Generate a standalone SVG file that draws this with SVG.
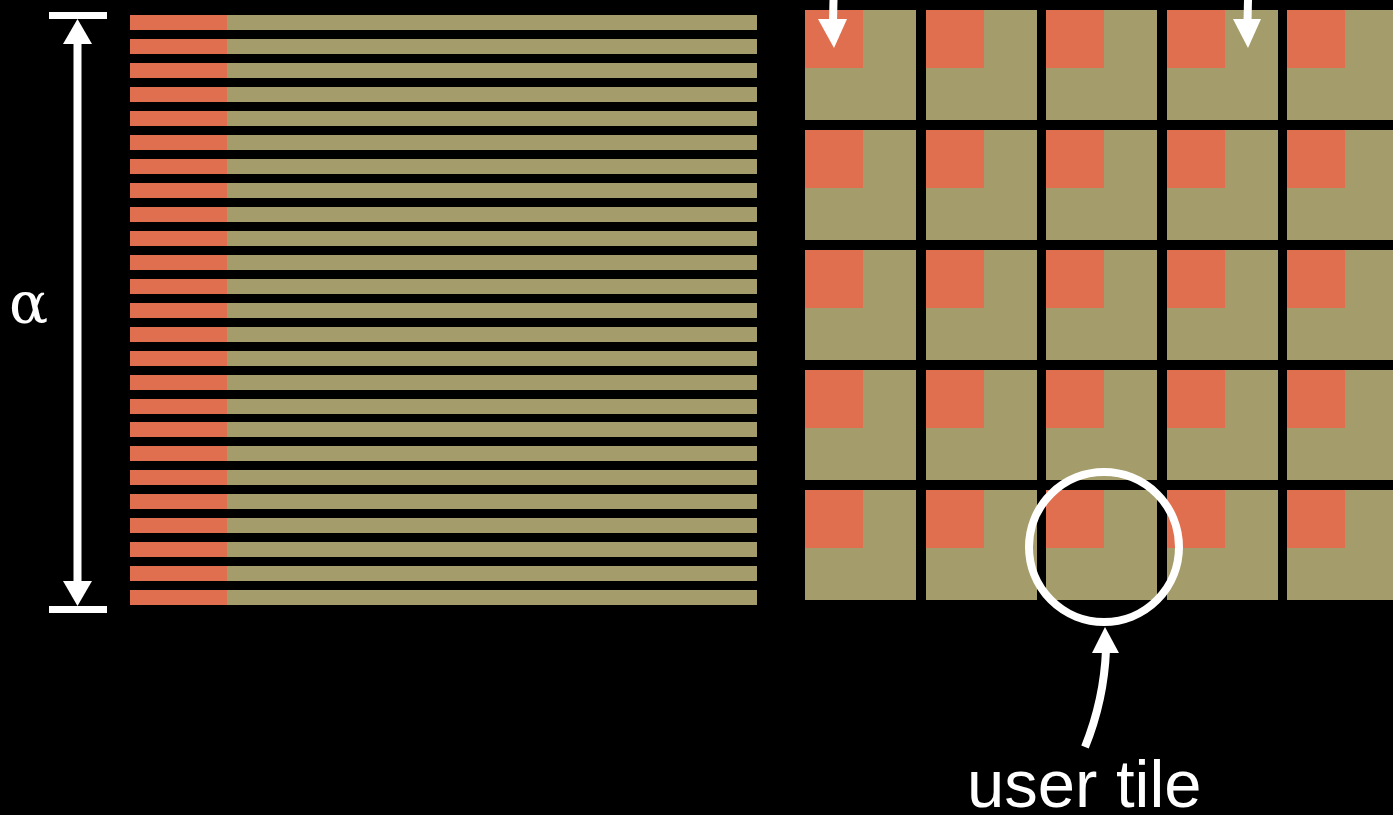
<svg xmlns="http://www.w3.org/2000/svg" width="1393" height="815" viewBox="0 0 1393 815">
<defs>
<style>
.r{fill:#E06F50}
.g{fill:#A49D6B}
.w{fill:#fff}
.ln{stroke:#fff;stroke-width:8;fill:none}
</style>
<g id="bar"><rect class="g" x="130" y="0" width="627" height="15"/><rect class="r" x="130" y="0" width="97" height="15"/></g>
<g id="tile"><rect class="g" x="0" y="0" width="111" height="110"/><rect class="r" x="0" y="0" width="58" height="58"/></g>
</defs>
<rect width="1393" height="815" fill="#000"/>
<g id="bars">
<use href="#bar" y="15"/><use href="#bar" y="39"/><use href="#bar" y="63"/><use href="#bar" y="87"/><use href="#bar" y="111"/>
<use href="#bar" y="135"/><use href="#bar" y="159"/><use href="#bar" y="183"/><use href="#bar" y="207"/><use href="#bar" y="231"/>
<use href="#bar" y="255"/><use href="#bar" y="279"/><use href="#bar" y="303"/><use href="#bar" y="327"/><use href="#bar" y="351"/>
<use href="#bar" y="375"/><use href="#bar" y="399"/><use href="#bar" y="422"/><use href="#bar" y="446"/><use href="#bar" y="470"/>
<use href="#bar" y="494"/><use href="#bar" y="518"/><use href="#bar" y="542"/><use href="#bar" y="566"/><use href="#bar" y="590"/>
</g>
<g id="grid">
<use href="#tile" x="805" y="10"/><use href="#tile" x="926" y="10"/><use href="#tile" x="1046" y="10"/><use href="#tile" x="1167" y="10"/><use href="#tile" x="1287" y="10"/>
<use href="#tile" x="805" y="130"/><use href="#tile" x="926" y="130"/><use href="#tile" x="1046" y="130"/><use href="#tile" x="1167" y="130"/><use href="#tile" x="1287" y="130"/>
<use href="#tile" x="805" y="250"/><use href="#tile" x="926" y="250"/><use href="#tile" x="1046" y="250"/><use href="#tile" x="1167" y="250"/><use href="#tile" x="1287" y="250"/>
<use href="#tile" x="805" y="370"/><use href="#tile" x="926" y="370"/><use href="#tile" x="1046" y="370"/><use href="#tile" x="1167" y="370"/><use href="#tile" x="1287" y="370"/>
<use href="#tile" x="805" y="490"/><use href="#tile" x="926" y="490"/><use href="#tile" x="1046" y="490"/><use href="#tile" x="1167" y="490"/><use href="#tile" x="1287" y="490"/>
</g>
<g id="alpha-dimension">
<rect class="w" x="49" y="12" width="58" height="7"/>
<rect class="w" x="49" y="606" width="58" height="7"/>
<line class="ln" x1="77.5" y1="40" x2="77.5" y2="585"/>
<polygon class="w" points="77.5,19 63,44 92,44"/>
<polygon class="w" points="77.5,606 63,581 92,581"/>
<text x="9" y="323" font-family="DejaVu Serif, serif" font-size="58" fill="#fff">α</text>
</g>
<g id="connectors">
<path class="ln" d="M833.5,0 L833,22"/>
<polygon class="w" points="834,48 818,19 847,19"/>
<path class="ln" d="M1248,0 L1247.5,22"/>
<polygon class="w" points="1248,48 1233,19 1261,19"/>
<path class="ln" d="M1085,747 Q1104,700 1106,650"/>
<polygon class="w" points="1105,627 1092,653 1119,653"/>
</g>
<g id="user-tile">
<circle cx="1104" cy="547" r="75" class="ln"/>
<text x="967" y="807" font-family="Liberation Sans, Arial, sans-serif" font-size="67" fill="#fff">user tile</text>
</g>
</svg>
